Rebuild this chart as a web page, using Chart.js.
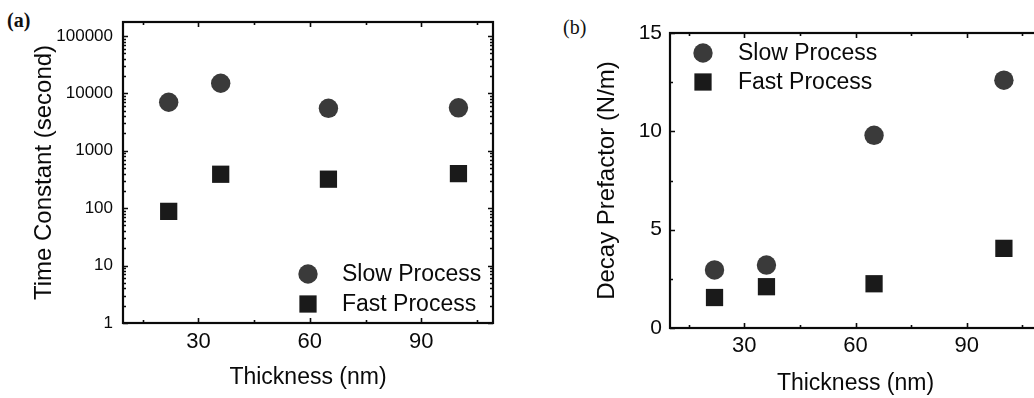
<!DOCTYPE html>
<html>
<head>
<meta charset="utf-8">
<script src="https://cdn.jsdelivr.net/npm/chart.js@4.4.1/dist/chart.umd.min.js"></script>
<style>
  html, body { margin: 0; padding: 0; background: #fff; }
  body { width: 1034px; height: 398px; overflow: hidden; position: relative; }
  canvas { position: absolute; top: 0; }
  #chartA { left: 0; }
  #chartB { left: 520px; }
  .tag { position: absolute; font-family: "Liberation Serif", "Times New Roman", serif; color: #111; font-size: 20px; line-height: 1; }
  #tagA { left: 7px; top: 10px; font-weight: bold; }
  #tagB { left: 563px; top: 17px; }
</style>
</head>
<body>
<div class="tag" id="tagA">(a)</div>
<div class="tag" id="tagB">(b)</div>
<canvas id="chartA" width="520" height="398"></canvas>
<canvas id="chartB" width="560" height="398"></canvas>
<script>
// Film thickness (nm) of the four samples
const thickness = [22, 36, 65, 100];

// (a) relaxation time constants (s)
const slowTime = [7000, 15000, 5500, 5600];
const fastTime = [88, 390, 320, 400];

// (b) decay prefactors (N/m)
const slowPrefactor = [2.95, 3.2, 9.8, 12.6];
const fastPrefactor = [1.55, 2.1, 2.25, 4.05];

// Axis ticks
const thicknessTicks = [30, 60, 90];
const thicknessMinorTicks = [15, 45, 75, 105];
const timeTicks = [1, 10, 100, 1000, 10000, 100000];
const prefactorTicks = [0, 5, 10, 15];
const prefactorMinorTicks = [2.5, 7.5, 12.5];

const seriesNames = ['Slow Process', 'Fast Process'];

const FONT = '"Liberation Sans", Arial, Helvetica, sans-serif';
const INK = '#0a0a0a';
const SLOW_COLOR = '#3a3a3a';
const FAST_COLOR = '#1a1a1a';

const toPoints = (xs, ys) => xs.map((x, i) => ({ x: x, y: ys[i] }));

// minor log ticks 2..9 inside every decade
const logMinor = [];
for (let i = 0; i < timeTicks.length - 1; i++) {
  for (let k = 2; k <= 9; k++) logMinor.push(timeTicks[i] * k);
}

// Closed frame with inward tick marks on all four sides
const framePlugin = {
  id: 'frameTicks',
  afterDatasetsDraw(chart, args, opts) {
    const { ctx, chartArea: a } = chart;
    const xs = chart.scales.x, ys = chart.scales.y;
    ctx.save();
    ctx.strokeStyle = INK;
    ctx.lineWidth = 1.6;
    const xMarks = (vals, len) => vals.forEach(v => {
      const p = Math.round(xs.getPixelForValue(v)) + 0.5;
      ctx.beginPath();
      ctx.moveTo(p, a.bottom); ctx.lineTo(p, a.bottom - len);
      ctx.moveTo(p, a.top); ctx.lineTo(p, a.top + len);
      ctx.stroke();
    });
    const yMarks = (vals, len) => vals.forEach(v => {
      const p = Math.round(ys.getPixelForValue(v)) + 0.5;
      ctx.beginPath();
      ctx.moveTo(a.left, p); ctx.lineTo(a.left + len, p);
      ctx.moveTo(a.right, p); ctx.lineTo(a.right - len, p);
      ctx.stroke();
    });
    xMarks(opts.xMajor, 5);
    xMarks(opts.xMinor, 3);
    yMarks(opts.yMajor, 5);
    yMarks(opts.yMinor, 3);
    ctx.lineWidth = 2.2;
    ctx.strokeRect(a.left, a.top, a.right - a.left, a.bottom - a.top);
    ctx.restore();
  }
};

// Legend drawn inside the plotting area
const insetLegendPlugin = {
  id: 'insetLegend',
  afterDraw(chart, args, opts) {
    const { ctx, chartArea: a } = chart;
    const baseX = opts.fromRight ? a.right + opts.x : a.left + opts.x;
    const baseY = opts.fromBottom ? a.bottom + opts.y : a.top + opts.y;
    ctx.save();
    chart.data.datasets.forEach((ds, i) => {
      const y = baseY + i * opts.rowGap;
      const r = ds.pointRadius;
      ctx.fillStyle = ds.backgroundColor;
      if (ds.pointStyle === 'rect') {
        const s = r / Math.SQRT2;
        ctx.fillRect(baseX - s, y - s, 2 * s, 2 * s);
      } else {
        ctx.beginPath();
        ctx.arc(baseX, y, r, 0, Math.PI * 2);
        ctx.fill();
      }
      ctx.fillStyle = INK;
      ctx.font = opts.fontSize + 'px ' + FONT;
      ctx.textAlign = 'left';
      ctx.textBaseline = 'middle';
      ctx.fillText(ds.label, baseX + opts.textGap, y + 1);
    });
    ctx.restore();
  }
};

function makeDatasets(slow, fast) {
  return [
    {
      label: seriesNames[0],
      data: toPoints(thickness, slow),
      pointStyle: 'circle',
      pointRadius: 9.7,
      backgroundColor: SLOW_COLOR,
      borderColor: SLOW_COLOR,
      borderWidth: 0,
      showLine: false
    },
    {
      label: seriesNames[1],
      data: toPoints(thickness, fast),
      pointStyle: 'rect',
      pointRadius: 12.2,
      backgroundColor: FAST_COLOR,
      borderColor: FAST_COLOR,
      borderWidth: 0,
      showLine: false
    }
  ];
}

const noGrid = { display: false, drawTicks: false };

// Panel (a): time constants, log scale
new Chart(document.getElementById('chartA'), {
  type: 'scatter',
  data: { datasets: makeDatasets(slowTime, fastTime) },
  options: {
    responsive: false,
    animation: false,
    events: [],
    layout: { padding: { left: 0, right: 27, top: 22, bottom: 0 } },
    scales: {
      x: {
        type: 'linear',
        min: 9.7,
        max: 109.3,
        afterBuildTicks: s => { s.ticks = thicknessTicks.map(v => ({ value: v })); },
        afterFit: s => { s.height = 75; },
        grid: noGrid,
        border: { display: false },
        ticks: { padding: 6, color: INK, autoSkip: false, maxRotation: 0, font: { family: FONT, size: 22 } },
        title: { display: true, text: 'Thickness (nm)', color: INK, font: { family: FONT, size: 23 }, padding: { top: 0, bottom: 7 } }
      },
      y: {
        type: 'logarithmic',
        min: 1,
        max: 175000,
        afterBuildTicks: s => { s.ticks = timeTicks.map(v => ({ value: v })); },
        afterFit: s => { s.width = 123; },
        grid: noGrid,
        border: { display: false },
        ticks: { padding: 10, color: INK, autoSkip: false, font: { family: FONT, size: 17 }, callback: v => String(v) },
        title: { display: true, text: 'Time Constant (second)', color: INK, font: { family: FONT, size: 24 }, padding: { top: 30, bottom: 0 } }
      }
    },
    plugins: {
      legend: { display: false },
      tooltip: { enabled: false },
      frameTicks: { xMajor: thicknessTicks, xMinor: thicknessMinorTicks, yMajor: timeTicks, yMinor: logMinor },
      insetLegend: { fromRight: true, fromBottom: true, x: -185, y: -49, rowGap: 30, textGap: 34, fontSize: 23 }
    }
  },
  plugins: [framePlugin, insetLegendPlugin]
});

// Panel (b): decay prefactors, linear scale
new Chart(document.getElementById('chartB'), {
  type: 'scatter',
  data: { datasets: makeDatasets(slowPrefactor, fastPrefactor) },
  options: {
    responsive: false,
    animation: false,
    events: [],
    layout: { padding: { left: 0, right: 39, top: 33, bottom: 0 } },
    scales: {
      x: {
        type: 'linear',
        min: 10,
        max: 110,
        afterBuildTicks: s => { s.ticks = thicknessTicks.map(v => ({ value: v })); },
        afterFit: s => { s.height = 70; },
        grid: noGrid,
        border: { display: false },
        ticks: { padding: 5, color: INK, autoSkip: false, maxRotation: 0, font: { family: FONT, size: 22 } },
        title: { display: true, text: 'Thickness (nm)', color: INK, font: { family: FONT, size: 23 }, padding: { top: 0, bottom: 1 } }
      },
      y: {
        type: 'linear',
        min: 0,
        max: 15,
        afterBuildTicks: s => { s.ticks = prefactorTicks.map(v => ({ value: v })); },
        afterFit: s => { s.width = 150; },
        grid: noGrid,
        border: { display: false },
        ticks: { padding: 8, color: INK, autoSkip: false, font: { family: FONT, size: 21 } },
        title: { display: true, text: 'Decay Prefactor (N/m)', color: INK, font: { family: FONT, size: 24 }, padding: { top: 73, bottom: 0 } }
      }
    },
    plugins: {
      legend: { display: false },
      tooltip: { enabled: false },
      frameTicks: { xMajor: thicknessTicks, xMinor: thicknessMinorTicks, yMajor: prefactorTicks, yMinor: prefactorMinorTicks },
      insetLegend: { fromRight: false, fromBottom: false, x: 33, y: 20, rowGap: 29, textGap: 35, fontSize: 23 }
    }
  },
  plugins: [framePlugin, insetLegendPlugin]
});
</script>
</body>
</html>
